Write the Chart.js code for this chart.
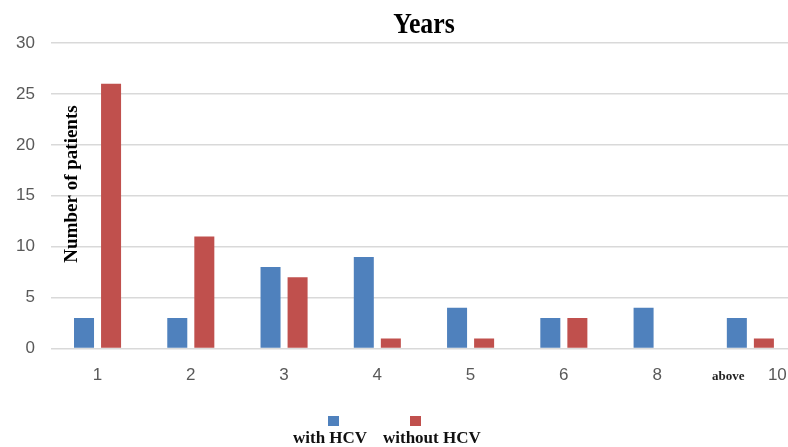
<!DOCTYPE html>
<html>
<head>
<meta charset="utf-8">
<script src="https://cdn.jsdelivr.net/npm/chart.js@4/dist/chart.umd.min.js"></script>
<style>
html,body{margin:0;padding:0;background:#fff;overflow:hidden;width:788px;height:447px;}
#wrap{position:relative;width:797px;height:447px;}
</style>
</head>
<body>
<div id="wrap"><canvas id="c"></canvas></div>
<script>
const categories = ['1', '2', '3', '4', '5', '6', '8', 'above 10'];
const withHCV = [3, 3, 8, 9, 4, 3, 4, 3];
const withoutHCV = [26, 11, 7, 1, 1, 3, 0, 1];
const seriesNames = ['with HCV', 'without HCV'];
const yTicks = [0, 5, 10, 15, 20, 25, 30];
const chartTitle = 'Years';
const yTitle = 'Number of patients';

const BLUE = '#4f81bd', RED = '#c0504d', TICK = '#595959';

const overlay = {
  id: 'overlay',
  afterDraw(chart) {
    const ctx = chart.ctx, ca = chart.chartArea;
    ctx.save();
    // title
    ctx.fillStyle = '#000';
    ctx.textAlign = 'center';
    ctx.textBaseline = 'middle';
    ctx.font = 'bold 30px "Liberation Serif", "Times New Roman", serif';
    ctx.save();
    ctx.translate((ca.left + ca.right) / 2, 25);
    ctx.scale(0.86, 1);
    ctx.fillText(chartTitle, 0, 0);
    ctx.restore();
    // y title inside plot
    ctx.save();
    ctx.translate(72, 184);
    ctx.rotate(-Math.PI / 2);
    ctx.font = 'bold 19px "Liberation Serif", "Times New Roman", serif';
    ctx.fillText(yTitle, 0, 0);
    ctx.restore();
    // last category label "above 10"
    const xs = chart.scales.x;
    const last = categories.length - 1;
    const px = xs.getPixelForValue(last);
    const parts = categories[last].split(' ');
    ctx.font = 'bold 13px "Liberation Serif", "Times New Roman", serif';
    ctx.fillStyle = '#222';
    ctx.fillText(parts[0], px - 22, ca.bottom + 28);
    ctx.font = '17px "Liberation Sans", Arial, sans-serif';
    ctx.fillStyle = TICK;
    ctx.fillText(parts[1], px + 27, ca.bottom + 27);
    // legend
    const sw = [[328, BLUE], [410, RED]];
    sw.forEach(([x, col]) => { ctx.fillStyle = col; ctx.fillRect(x, 416, 11, 10); });
    ctx.fillStyle = '#111';
    ctx.font = 'bold 17px "Liberation Serif", "Times New Roman", serif';
    ctx.textAlign = 'left';
    ctx.fillText(seriesNames[0], 293, 439);
    ctx.fillText(seriesNames[1], 383, 439);
    ctx.restore();
  }
};

new Chart(document.getElementById('c'), {
  type: 'bar',
  data: {
    labels: categories,
    datasets: [
      { label: seriesNames[0], data: withHCV, backgroundColor: BLUE, borderWidth: 0 },
      { label: seriesNames[1], data: withoutHCV, backgroundColor: RED, borderWidth: 0 }
    ]
  },
  options: {
    responsive: true,
    maintainAspectRatio: false,
    animation: false,
    devicePixelRatio: 1,
    categoryPercentage: 0.58,
    barPercentage: 0.74,
    layout: { padding: { top: 43, left: 0, right: 0, bottom: 44 } },
    plugins: { legend: { display: false }, title: { display: false }, tooltip: { enabled: false } },
    scales: {
      x: {
        grid: { display: false, drawTicks: false },
        border: { display: false },
        ticks: {
          color: TICK,
          padding: 17,
          maxRotation: 0,
          autoSkip: false,
          font: { family: '"Liberation Sans", Arial, sans-serif', size: 17 },
          callback: function (v, i) { return categories[i].indexOf(' ') >= 0 ? '' : categories[i]; }
        }
      },
      y: {
        min: 0,
        max: 30,
        afterBuildTicks: (axis) => { axis.ticks = yTicks.map(v => ({ value: v })); },
        grid: { color: '#d9d9d9', lineWidth: 1.5, drawTicks: false },
        border: { display: false },
        ticks: {
          color: TICK,
          padding: 16,
          font: { family: '"Liberation Sans", Arial, sans-serif', size: 17 }
        }
      }
    }
  },
  plugins: [overlay]
});
</script>
</body>
</html>
